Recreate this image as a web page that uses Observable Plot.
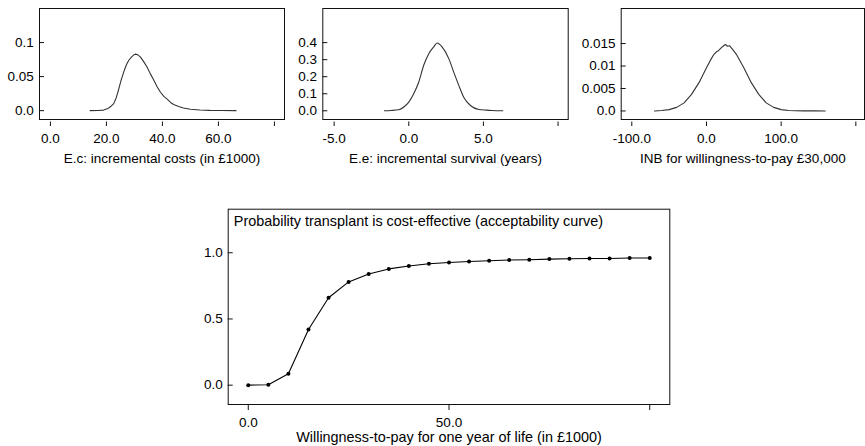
<!DOCTYPE html>
<html><head><meta charset="utf-8">
<script src="https://cdn.jsdelivr.net/npm/d3@7"></script>
<script src="https://cdn.jsdelivr.net/npm/@observablehq/plot@0.6"></script>
<style>
html,body{margin:0;padding:0;background:#fff;}
#chart{position:relative;width:865px;height:446px;overflow:hidden;background:#fff;}
#chart > div{position:absolute;}
</style></head><body><div id="chart"></div>
<script>
// ---- Data ----
const costX = [14.2, 17, 19, 20.5, 21.5, 22.6, 23.5, 24.3, 25.2, 26.2, 27.1, 28, 29, 29.8, 30.4, 31.2, 32.1, 33.3, 34.5, 35.7, 36.9, 38.1, 39.3, 40.5, 41.7, 42.9, 44, 45.8, 47.5, 50, 53.4, 57, 61, 66.3];
const costDensity = [0, 0.0002, 0.0008, 0.003, 0.006, 0.0103, 0.019, 0.030, 0.044, 0.057, 0.067, 0.074, 0.079, 0.082, 0.083, 0.082, 0.079, 0.072, 0.064, 0.054, 0.045, 0.035, 0.027, 0.021, 0.017, 0.012, 0.009, 0.006, 0.004, 0.002, 0.001, 0.0004, 0.0002, 0];

const survX = [-1.63, -1.2, -0.67, -0.33, 0, 0.33, 0.67, 1.0, 1.34, 1.67, 1.9, 2.23, 2.68, 3.01, 3.35, 3.68, 4.13, 4.69, 5.2, 5.58, 6.3];
const survDensity = [0, 0.002, 0.006, 0.022, 0.051, 0.10, 0.169, 0.267, 0.335, 0.375, 0.398, 0.375, 0.306, 0.227, 0.149, 0.080, 0.031, 0.008, 0.004, 0.002, 0];

const inbX = [-69.6, -60, -50, -40, -30, -20, -10, 0, 5, 10, 13, 16, 20, 23, 25.4, 28, 31, 35, 40, 50, 60, 70, 80, 90, 100, 110, 120, 130, 145, 159];
const inbDensity = [0, 0.0001, 0.0003, 0.0008, 0.0018, 0.0037, 0.0063, 0.0096, 0.0112, 0.0126, 0.0131, 0.0134, 0.0141, 0.0145, 0.0148, 0.0144, 0.0145, 0.0137, 0.0126, 0.0096, 0.0063, 0.0037, 0.0018, 0.0008, 0.0003, 0.0001, 0.00005, 0.00002, 0.00001, 0];

const wtp = [0, 5, 10, 15, 20, 25, 30, 35, 40, 45, 50, 55, 60, 65, 70, 75, 80, 85, 90, 95, 100];
const probCE = [0.0, 0.003, 0.086, 0.42, 0.66, 0.78, 0.84, 0.878, 0.90, 0.917, 0.927, 0.934, 0.94, 0.945, 0.947, 0.952, 0.955, 0.957, 0.957, 0.96, 0.96];

// ticks & labels
const costXTicks = [0, 20, 40, 60, 80], costXLabels = ["0.0", "20.0", "40.0", "60.0", ""];
const costYTicks = [0, 0.05, 0.1], costYLabels = ["0.0", "0.05", "0.1"];
const survXTicks = [-5, 0, 5, 10], survXLabels = ["-5.0", "0.0", "5.0", ""];
const survYTicks = [0, 0.1, 0.2, 0.3, 0.4], survYLabels = ["0.0", "0.1", "0.2", "0.3", "0.4"];
const inbXTicks = [-100, 0, 100, 200], inbXLabels = ["-100.0", "0.0", "100.0", ""];
const inbYTicks = [0, 0.005, 0.01, 0.015], inbYLabels = ["0.0", "0.005", "0.01", "0.015"];
const accXTicks = [0, 50, 100], accXLabels = ["0.0", "50.0", ""];
const accYTicks = [0, 0.5, 1], accYLabels = ["0.0", "0.5", "1.0"];

const costTitle = "E.c: incremental costs (in £1000)";
const survTitle = "E.e: incremental survival (years)";
const inbTitle = "INB for willingness-to-pay £30,000";
const accXTitle = "Willingness-to-pay for one year of life (in £1000)";
const accTitle = "Probability transplant is cost-effective (acceptability curve)";

// ---- Drawing ----
const FONT = '"Liberation Sans", Arial, Helvetica, sans-serif';
const chart = document.getElementById("chart");

function panel(o) {
  const xMap = new Map(o.xTicks.map((t, i) => [t, o.xLabels[i]]));
  const yMap = new Map(o.yTicks.map((t, i) => [t, o.yLabels[i]]));
  const svg = Plot.plot({
    width: o.width, height: o.height,
    marginLeft: o.m[0], marginRight: o.m[1], marginTop: o.m[2], marginBottom: o.m[3],
    x: {type: "linear", domain: o.xDomain, label: null},
    y: {type: "linear", domain: o.yDomain, label: null},
    style: {fontFamily: FONT, fontSize: "13.5px", color: "black", background: "white", overflow: "visible"},
    marks: [
      Plot.frame({stroke: "#111", strokeWidth: 1}),
      Plot.axisY(o.yTicks, {tickSize: 5, dx: 5, tickFormat: () => "", label: null, stroke: "#111"}),
      Plot.axisY(o.yTicks, {tickSize: 0, tickPadding: o.yPad, tickFormat: d => yMap.get(d), label: null}),
      Plot.axisX(o.xTicks, {tickSize: o.xTickLen, dy: o.xGap, tickFormat: () => "", label: null, stroke: "#111"}),
      Plot.axisX(o.xTicks, {tickSize: 0, tickPadding: o.xPad, tickFormat: d => xMap.get(d), label: null}),
      Plot.text([o.xTitle], {frameAnchor: "bottom", dy: o.titleDy, lineAnchor: "top", fill: "black", fontSize: o.titleSize}),
      ...o.marks
    ]
  });
  const div = document.createElement("div");
  div.style.left = o.left + "px";
  div.style.top = o.top + "px";
  div.appendChild(svg);
  chart.appendChild(div);
}

const topCommon = {top: 0, height: 170, xGap: 2.5, xTickLen: 4.5, xPad: 13.5, titleDy: 33.5, yPad: 5.7, titleSize: 13.5};

panel({...topCommon, left: 0, width: 290, m: [39, 6, 8, 51],
  xDomain: [-3.9, 83.6], yDomain: [-0.013, 0.15],
  xTicks: costXTicks, xLabels: costXLabels, yTicks: costYTicks, yLabels: costYLabels, xTitle: costTitle,
  marks: [Plot.line(costX.map((x, i) => ({x, y: costDensity[i]})), {x: "x", y: "y", stroke: "#333", strokeWidth: 1.1})]
});

panel({...topCommon, left: 290, width: 285, m: [32.3, 7.3, 8, 51],
  xDomain: [-5.76, 10.68], yDomain: [-0.051, 0.60],
  xTicks: survXTicks, xLabels: survXLabels, yTicks: survYTicks, yLabels: survYLabels, xTitle: survTitle,
  marks: [Plot.line(survX.map((x, i) => ({x, y: survDensity[i]})), {x: "x", y: "y", stroke: "#333", strokeWidth: 1.1, curve: "monotone-x"})]
});

panel({...topCommon, left: 575, width: 290, m: [45.7, 1, 8, 51],
  xDomain: [-114.2, 211.6], yDomain: [-0.0019, 0.0228],
  xTicks: inbXTicks, xLabels: inbXLabels, yTicks: inbYTicks, yLabels: inbYLabels, xTitle: inbTitle,
  marks: [Plot.line(inbX.map((x, i) => ({x, y: inbDensity[i]})), {x: "x", y: "y", stroke: "#333", strokeWidth: 1.1})]
});

const acc = wtp.map((x, i) => ({x, y: probCE[i]}));
panel({left: 180, top: 180, width: 500, height: 266, m: [47.7, 10.7, 28.7, 42],
  xGap: 0, xTickLen: 6, xPad: 13.3, titleDy: 27.0, yPad: 5.4, titleSize: 14.4,
  xDomain: [-5, 105], yDomain: [-0.146, 1.329],
  xTicks: accXTicks, xLabels: accXLabels, yTicks: accYTicks, yLabels: accYLabels, xTitle: accXTitle,
  marks: [
    Plot.line(acc, {x: "x", y: "y", stroke: "black", strokeWidth: 1.1}),
    Plot.dot(acc, {x: "x", y: "y", r: 2, fill: "black", stroke: "none"}),
    Plot.text([accTitle], {frameAnchor: "top-left", dx: 5.6, dy: 6.5, lineAnchor: "top", textAnchor: "start", fill: "black", fontSize: 14.4})
  ]
});
</script>
</body></html>
